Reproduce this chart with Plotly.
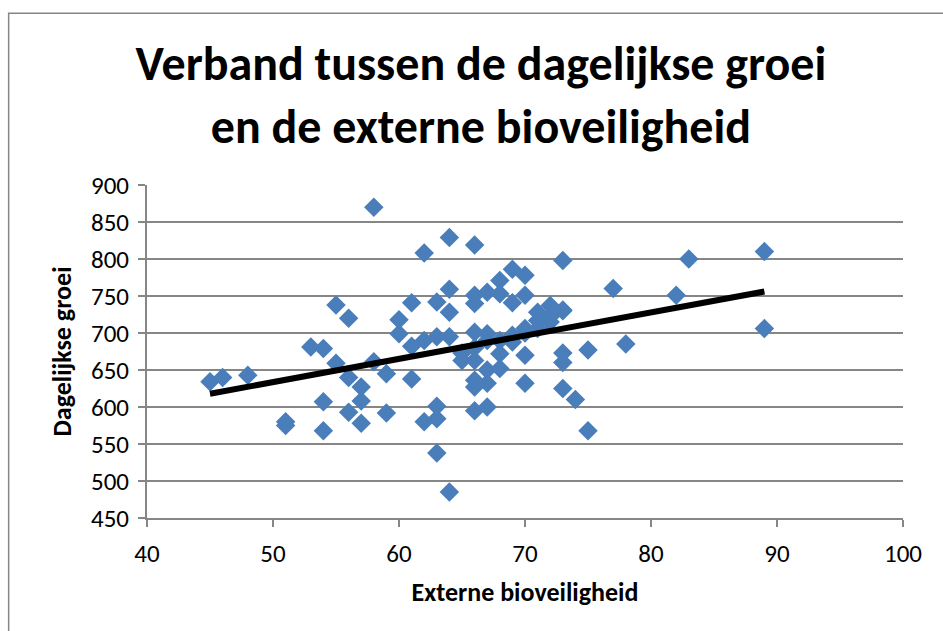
import plotly.graph_objects as go

# Data
bioveiligheid = [
    45, 46, 48, 51, 51, 53, 54, 54, 54, 55, 55, 56, 56, 56, 57, 57, 57, 58, 58,
    59, 59, 60, 60, 61, 61, 61, 62, 62, 62, 63, 63, 63, 63, 63, 64, 64, 64, 64, 64,
    65, 65, 66, 66, 66, 66, 66, 66, 66, 66, 66, 67, 67, 67, 67, 67, 67, 68, 68, 68,
    68, 68, 69, 69, 69, 69, 70, 70, 70, 70, 70, 70, 71, 71, 71, 72, 72, 72, 73, 73,
    73, 73, 73, 73, 74, 75, 75, 77, 78, 82, 83, 89, 89,
]
groei = [
    634, 640, 643, 580, 575, 681, 679, 607, 568, 738, 659, 720, 640, 593, 627, 608, 578, 870, 661,
    645, 592, 718, 699, 741, 682, 638, 808, 690, 580, 742, 695, 601, 584, 538, 829, 759, 728, 695, 485,
    673, 663, 819, 751, 740, 701, 680, 663, 636, 627, 595, 755, 699, 690, 650, 632, 600, 771, 753, 690,
    672, 652, 786, 741, 697, 688, 778, 751, 706, 700, 670, 632, 728, 717, 706, 737, 722, 715, 798, 731,
    673, 660, 625, 730, 610, 677, 568, 760, 685, 751, 800, 810, 706,
]
trend_x = [45, 89]
trend_y = [618, 756]

x_ticks = [40, 50, 60, 70, 80, 90, 100]
y_ticks = [450, 500, 550, 600, 650, 700, 750, 800, 850, 900]

title_text = "Verband tussen de dagelijkse groei<br>en de externe bioveiligheid"
x_title = "Externe bioveiligheid"
y_title = "Dagelijkse groei"

FONT = "Carlito, Lato, sans-serif"
GRID = "#868686"

fig = go.Figure()
fig.add_trace(go.Scatter(
    x=bioveiligheid, y=groei, mode="markers",
    marker=dict(symbol="diamond", size=15, color="#4A7EBB", line=dict(width=0)),
    showlegend=False, hoverinfo="x+y",
))
fig.add_trace(go.Scatter(
    x=trend_x, y=trend_y, mode="lines",
    line=dict(color="black", width=6), showlegend=False, hoverinfo="skip",
))

fig.update_layout(
    width=943, height=631,
    margin=dict(l=147, r=40, t=185, b=113),
    paper_bgcolor="white", plot_bgcolor="white",
    font=dict(family=FONT, color="black"),
    title=dict(
        text="<b>" + title_text + "</b>",
        x=0.51, xanchor="center", xref="container",
        y=0.873, yanchor="middle", yref="container",
        font=dict(family=FONT, size=48, color="black"),
    ),
    xaxis=dict(
        range=[40, 100], tickvals=x_ticks, ticktext=[str(v) for v in x_ticks],
        showgrid=False, zeroline=False,
        showline=True, linecolor=GRID, linewidth=2,
        ticks="outside", ticklen=7, tickcolor=GRID, tickwidth=2,
        ticklabelstandoff=5,
        tickfont=dict(family=FONT, size=25, color="black"),
        title=dict(text="<b>" + x_title + "</b>", standoff=15,
                   font=dict(family=FONT, size=26, color="black")),
    ),
    yaxis=dict(
        range=[450, 900], tickvals=y_ticks, ticktext=[str(v) for v in y_ticks],
        showgrid=True, gridcolor=GRID, gridwidth=2, zeroline=False,
        showline=True, linecolor=GRID, linewidth=2,
        ticks="outside", ticklen=7, tickcolor=GRID, tickwidth=2,
        ticklabelstandoff=4,
        tickfont=dict(family=FONT, size=25, color="black"),
        title=dict(text="<b>" + y_title + "</b>", standoff=12,
                   font=dict(family=FONT, size=26, color="black")),
    ),
    shapes=[dict(
        type="rect", xref="paper", yref="paper",
        x0=-0.183, x1=1.056, y0=-0.4, y1=1.516,
        line=dict(color=GRID, width=1.5), fillcolor="rgba(0,0,0,0)", layer="below",
    )],
)

fig.write_html("out.html", config={"displayModeBar": False},
               post_script="document.body.style.margin='0';")
